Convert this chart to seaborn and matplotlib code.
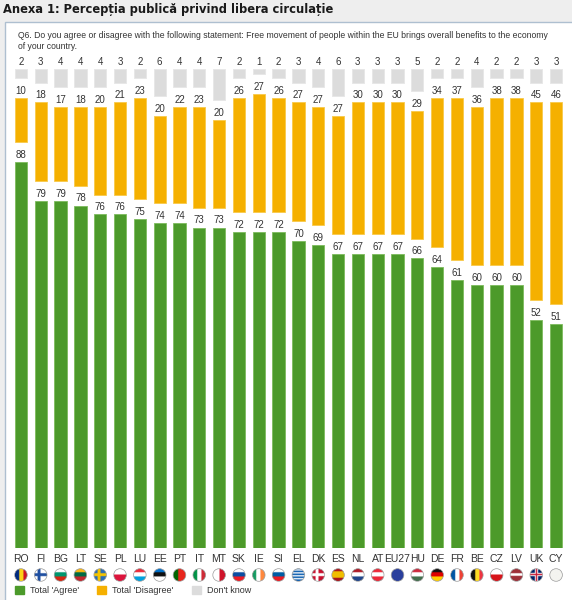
import numpy as np
import pandas as pd
import matplotlib
matplotlib.use("Agg")
import matplotlib.pyplot as plt
import matplotlib.colors as mcolors
from matplotlib.patches import Rectangle, Circle, Patch
import seaborn as sns

# Datele graficului
countries = ["RO", "FI", "BG", "LT", "SE", "PL", "LU", "EE", "PT", "IT", "MT", "SK", "IE", "SI",
             "EL", "DK", "ES", "NL", "AT", "EU27", "HU", "DE", "FR", "BE", "CZ", "LV", "UK", "CY"]
agree = [88, 79, 79, 78, 76, 76, 75, 74, 74, 73, 73, 72, 72, 72,
         70, 69, 67, 67, 67, 67, 66, 64, 61, 60, 60, 60, 52, 51]
disagree = [10, 18, 17, 18, 20, 21, 23, 20, 22, 23, 20, 26, 27, 26,
            27, 27, 27, 30, 30, 30, 29, 34, 37, 36, 38, 38, 45, 46]
dont_know = [2, 3, 4, 4, 4, 3, 2, 6, 4, 4, 7, 2, 1, 2,
             3, 4, 6, 3, 3, 3, 5, 2, 2, 4, 2, 2, 3, 3]
legend_labels = ["Total 'Agree'", "Total 'Disagree'", "Don't know"]

title = "Anexa 1: Percepția publică privind libera circulație"
question = ("Q6. Do you agree or disagree with the following statement: Free movement of people "
            "within the EU brings overall benefits to the economy\nof your country.")

GREEN = "#4c9a2a"
ORANGE = "#f5b000"
GRAY = "#dcdcdc"
GAP = 4.5  # spatiu alb intre segmente

# steaguri (stil)
flags = {
    "RO": ("v", ["#002b7f", "#fcd116", "#ce1126"]),
    "FI": ("cross", "#ffffff", "#1f4fa0"),
    "BG": ("h", ["#ffffff", "#00966e", "#d62612"]),
    "LT": ("h", ["#fdb913", "#006a44", "#c1272d"]),
    "SE": ("cross", "#2a6db5", "#f5c400"),
    "PL": ("h", ["#ffffff", "#dc143c"]),
    "LU": ("h", ["#ed2939", "#ffffff", "#00a1de"]),
    "EE": ("h", ["#0072ce", "#111111", "#ffffff"]),
    "PT": ("v", ["#006600", "#006600", "#e8261c", "#e8261c", "#e8261c"]),
    "IT": ("v", ["#009246", "#ffffff", "#ce2b37"]),
    "MT": ("v", ["#ffffff", "#cf142b"]),
    "SK": ("h", ["#ffffff", "#0b4ea2", "#ee1c25"]),
    "IE": ("v", ["#169b62", "#ffffff", "#ff883e"]),
    "SI": ("h", ["#ffffff", "#005da4", "#ed1c24"]),
    "EL": ("h", ["#0d5eaf", "#ffffff"] * 4 + ["#0d5eaf"]),
    "DK": ("cross", "#c8102e", "#ffffff"),
    "ES": ("h", ["#aa151b", "#f1bf00", "#f1bf00", "#aa151b"]),
    "NL": ("h", ["#ae1c28", "#ffffff", "#21468b"]),
    "AT": ("h", ["#ed2939", "#ffffff", "#ed2939"]),
    "EU27": ("h", ["#2a3f9d"]),
    "HU": ("h", ["#cd2a3e", "#ffffff", "#436f4d"]),
    "DE": ("h", ["#111111", "#dd0000", "#ffce00"]),
    "FR": ("v", ["#0055a4", "#ffffff", "#ef4135"]),
    "BE": ("v", ["#111111", "#fdda24", "#ef3340"]),
    "CZ": ("h", ["#ffffff", "#d7141a"]),
    "LV": ("h", ["#9e3039", "#9e3039", "#ffffff", "#9e3039", "#9e3039"]),
    "UK": ("uk", "#012169", "#ffffff", "#c8102e"),
    "CY": ("h", ["#f4f4f0"]),
}


def flag_img(spec, n=40):
    img = np.ones((n, n, 3))
    kind = spec[0]
    if kind in ("h", "v"):
        cols = spec[1]
        k = len(cols)
        for j, c in enumerate(cols):
            lo, hi = j * n // k, (j + 1) * n // k
            if kind == "h":
                img[lo:hi, :] = mcolors.to_rgb(c)
            else:
                img[:, lo:hi] = mcolors.to_rgb(c)
    elif kind == "cross":
        img[:] = mcolors.to_rgb(spec[1])
        w = n // 5
        cx = int(n * 0.38)
        img[n // 2 - w // 2:n // 2 + w // 2 + 1, :] = mcolors.to_rgb(spec[2])
        img[:, cx - w // 2:cx + w // 2 + 1] = mcolors.to_rgb(spec[2])
    elif kind == "uk":
        img[:] = mcolors.to_rgb(spec[1])
        w = n // 4
        img[n // 2 - w // 2:n // 2 + w // 2, :] = mcolors.to_rgb(spec[2])
        img[:, n // 2 - w // 2:n // 2 + w // 2] = mcolors.to_rgb(spec[2])
        w = n // 8
        img[n // 2 - w // 2:n // 2 + w // 2, :] = mcolors.to_rgb(spec[3])
        img[:, n // 2 - w // 2:n // 2 + w // 2] = mcolors.to_rgb(spec[3])
    return img


df = pd.DataFrame({"country": countries, "agree": agree,
                   "disagree": disagree, "dont_know": dont_know})

sns.set_style("white")
plt.rcParams["font.family"] = ["Liberation Sans", "DejaVu Sans"]

W, H = 572, 600
fig = plt.figure(figsize=(W / 100, H / 100), dpi=100, facecolor="#eeeeee")

# caseta alba cu chenar
fig.patches.append(Rectangle((5 / W, -0.01), 1, 1.01 - 22 / H, transform=fig.transFigure,
                             facecolor="white", edgecolor="#aebfd0", linewidth=1.0, zorder=-5))

fig.text(3 / W, 1 - 10 / H, title, fontsize=8.3, fontweight="bold", family="DejaVu Sans",
         color="#1a1a1a", va="center", ha="left")
fig.text(18 / W, 1 - 31 / H, question, fontsize=6.2, color="#333333", va="top", ha="left",
         linespacing=1.3)

# axa principala
x0, x1 = 11, 566
ybot, ytop = 548, 65
ax = fig.add_axes([x0 / W, 1 - ybot / H, (x1 - x0) / W, (ybot - ytop) / H])
ax.set_facecolor("none")

bar_w = 0.62
sns.barplot(data=df, x="country", y="agree", color=GREEN, saturation=1, width=bar_w,
            errorbar=None, ax=ax, edgecolor="#7dbb5c", linewidth=0.6)
sns.barplot(data=df, x="country", y="disagree", color=ORANGE, saturation=1, width=bar_w,
            errorbar=None, ax=ax, bottom=df["agree"] + GAP, edgecolor="#f8c94a", linewidth=0.6)
sns.barplot(data=df, x="country", y="dont_know", color=GRAY, saturation=1, width=bar_w,
            errorbar=None, ax=ax, bottom=df["agree"] + df["disagree"] + 2 * GAP,
            edgecolor="#e6e6e6", linewidth=0.6)

for cont, vals in zip(ax.containers, [agree, disagree, dont_know]):
    ax.bar_label(cont, labels=[str(v) for v in vals], padding=1.5, fontsize=7,
                 color="#333333")

ax.set_xlim(-0.5, len(countries) - 0.5)
ax.set_ylim(0, (ybot - ytop) / 4.39)
ax.set_xlabel("")
ax.set_ylabel("")
ax.set_yticks([])
ax.tick_params(axis="x", length=0, pad=4, labelsize=7.5, labelcolor="#333333")
sns.despine(ax=ax, left=True, bottom=True)

# steaguri sub etichete
fy0, fy1 = 567, 583
fax = fig.add_axes([x0 / W, 1 - fy1 / H, (x1 - x0) / W, (fy1 - fy0) / H])
unit = (x1 - x0) / len(countries)
fh = (fy1 - fy0) / unit
r = 6.3 / unit
for i, c in enumerate(countries):
    im = fax.imshow(flag_img(flags[c]), extent=(i - r, i + r, fh / 2 - r, fh / 2 + r),
                    aspect="auto", interpolation="bilinear")
    clip = Circle((i, fh / 2), r, transform=fax.transData)
    im.set_clip_path(clip)
    fax.add_patch(Circle((i, fh / 2), r, facecolor="none", edgecolor="#9a9a9a", linewidth=0.5))
fax.set_xlim(-0.5, len(countries) - 0.5)
fax.set_ylim(0, fh)
fax.axis("off")

handles = [Patch(color=GREEN), Patch(color=ORANGE), Patch(color=GRAY)]
fig.legend(handles, legend_labels, loc="lower left", bbox_to_anchor=(10 / W, 0.0), ncol=3,
           frameon=False, fontsize=6.5, handlelength=1.0, handleheight=1.0,
           handletextpad=0.7, columnspacing=2.0, borderaxespad=0.2, borderpad=0.3,
           labelcolor="#333333")

fig.savefig("out.png", dpi=100, facecolor=fig.get_facecolor())
